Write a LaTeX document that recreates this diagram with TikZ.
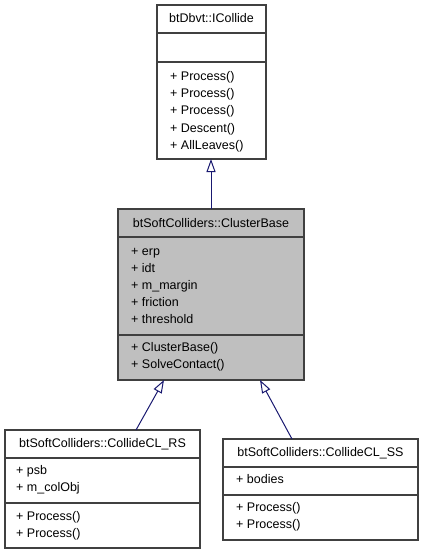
\documentclass[tikz,border=0pt]{standalone}
\usepackage{fontspec}
\setmainfont{Liberation Sans}
\usetikzlibrary{arrows.meta}
\definecolor{edgeblue}{HTML}{191970}
\definecolor{boxline}{HTML}{404040}
\definecolor{boxfill}{HTML}{BFBFBF}
\begin{document}
\begin{tikzpicture}[x=1pt,y=-1pt,
  cls/.style={draw=boxline, line width=1.2pt, rectangle, inner sep=0, fill=white},
  sepline/.style={draw=boxline, line width=1.2pt},
  txt/.style={anchor=base west, inner sep=0, font=\fontsize{12.5}{15}\selectfont},
  ttl/.style={anchor=base, inner sep=0, font=\fontsize{12.5}{15}\selectfont},
  inh/.style={draw=edgeblue, line width=1pt, -{Triangle[open, width=9pt, length=13pt]}}]
\useasboundingbox (0,0) rectangle (424,555);

% boxes
\node[cls, minimum width=109pt, minimum height=154pt] (top) at (211.5,82) {};
\node[cls, fill=boxfill, minimum width=186pt, minimum height=171pt] (mid) at (211,294.5) {};
\node[cls, minimum width=195pt, minimum height=118pt] (rs) at (102.5,489) {};
\node[cls, minimum width=195pt, minimum height=101pt] (ss) at (320.5,489.5) {};

% separators
\draw[sepline] (top.west |- 0,33) -- (top.east |- 0,33);
\draw[sepline] (top.west |- 0,62) -- (top.east |- 0,62);
\draw[sepline] (mid.west |- 0,237) -- (mid.east |- 0,237);
\draw[sepline] (mid.west |- 0,335) -- (mid.east |- 0,335);
\draw[sepline] (rs.west |- 0,458) -- (rs.east |- 0,458);
\draw[sepline] (rs.west |- 0,503) -- (rs.east |- 0,503);
\draw[sepline] (ss.west |- 0,467) -- (ss.east |- 0,467);
\draw[sepline] (ss.west |- 0,495) -- (ss.east |- 0,495);

% top box text
\node[ttl] (topT) at (211.5,22.5) {btDbvt::ICollide};
\node[txt] (topM1) at (170,80.5) {+ Process()};
\node[txt] (topM2) at (170,97.7) {+ Process()};
\node[txt] (topM3) at (170,114.9) {+ Process()};
\node[txt] (topM4) at (170,132.1) {+ Descent()};
\node[txt] (topM5) at (170,149.3) {+ AllLeaves()};

% middle box text
\node[ttl] (midT) at (211,227.5) {btSoftColliders::ClusterBase};
\node[txt] (midA1) at (131,255.5) {+ erp};
\node[txt] (midA2) at (131,272.5) {+ idt};
\node[txt] (midA3) at (131,289.5) {+ m\_margin};
\node[txt] (midA4) at (131,306.5) {+ friction};
\node[txt] (midA5) at (131,323.5) {+ threshold};
\node[txt] (midM1) at (131,351.5) {+ ClusterBase()};
\node[txt] (midM2) at (131,368.5) {+ SolveContact()};

% RS box text
\node[ttl] (rsT) at (102.5,447.5) {btSoftColliders::CollideCL\_RS};
\node[txt] (rsA1) at (16,474.5) {+ psb};
\node[txt] (rsA2) at (16,491.5) {+ m\_colObj};
\node[txt] (rsM1) at (16,520.5) {+ Process()};
\node[txt] (rsM2) at (16,537.5) {+ Process()};

% SS box text
\node[ttl] (ssT) at (320.5,456.5) {btSoftColliders::CollideCL\_SS};
\node[txt] (ssA1) at (236,483.5) {+ bodies};
\node[txt] (ssM1) at (236,511.5) {+ Process()};
\node[txt] (ssM2) at (236,528.5) {+ Process()};

% connectors
\coordinate (rsTop) at (136,430);
\coordinate (midL) at (164,380);
\coordinate (ssTop) at (292,439);
\coordinate (midR) at (260,380);
\coordinate (midTop) at (211,209);
\coordinate (topBot) at (211,159);
\draw[inh] (midTop) -- (topBot);
\draw[inh] (rsTop) -- (midL);
\draw[inh] (ssTop) -- (midR);
\end{tikzpicture}
\end{document}
